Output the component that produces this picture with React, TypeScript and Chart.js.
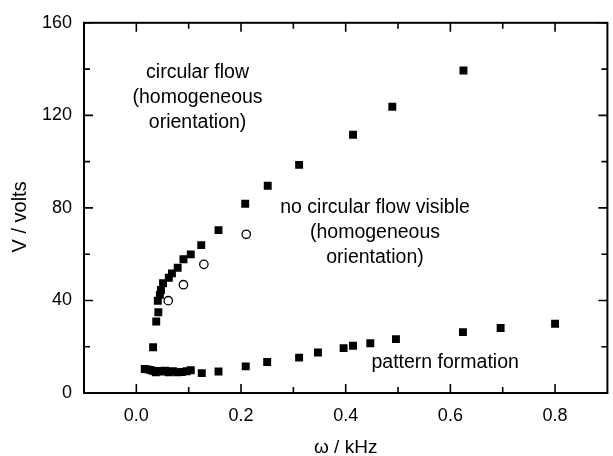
import { useEffect, useRef } from "react";
import Chart from "chart.js/auto";

// circular-flow threshold (filled squares, upper branch)
const upperX = [0.032, 0.038, 0.042, 0.041, 0.045, 0.047, 0.051, 0.062, 0.068, 0.079, 0.09, 0.104, 0.124, 0.157, 0.208, 0.251, 0.311, 0.414, 0.489, 0.625];
const upperY = [19.8, 30.9, 34.9, 39.9, 42.4, 44.5, 47.4, 49.8, 51.7, 54.1, 57.8, 59.9, 63.9, 70.4, 81.8, 89.6, 98.6, 111.6, 123.7, 139.4];

// pattern formation threshold (filled squares, lower branch)
const lowerX = [0.016, 0.021, 0.026, 0.031, 0.037, 0.042, 0.048, 0.055, 0.062, 0.07, 0.078, 0.087, 0.096, 0.104, 0.125, 0.157, 0.209, 0.25, 0.311, 0.347, 0.396, 0.414, 0.447, 0.496, 0.624, 0.696, 0.8];
const lowerY = [10.4, 10.2, 10.0, 9.6, 9.0, 9.5, 9.3, 9.6, 9.0, 9.4, 9.0, 9.1, 9.4, 9.8, 8.6, 9.3, 11.5, 13.4, 15.3, 17.5, 19.4, 20.4, 21.5, 23.3, 26.3, 28.1, 29.9];

// open circles
const openX = [0.061, 0.09, 0.129, 0.21];
const openY = [39.9, 46.8, 55.6, 68.6];

const xMajor = [0, 0.2, 0.4, 0.6, 0.8];
const xMinor = [0.1, 0.3, 0.5, 0.7];
const yMajor = [0, 40, 80, 120, 160];
const yMinor = [20, 60, 100, 140];

// region labels, anchored in data units
const notes = [
  { x: 0.117, y: [138.5, 127.8, 117], lines: ["circular flow", "(homogeneous", "orientation)"] },
  { x: 0.456, y: [80.0, 69.2, 58.4], lines: ["no circular flow visible", "(homogeneous", "orientation)"] },
  { x: 0.59, y: [13.2], lines: ["pattern formation"] },
];

const yTitle = "V / volts";

const FONT = "'Liberation Sans', Arial, sans-serif";

const framePlugin = {
  id: "frame",
  afterDatasetsDraw(chart: any) {
    const { ctx, chartArea: a } = chart;
    const { x, y } = chart.scales;
    ctx.save();
    ctx.strokeStyle = "#000";
    ctx.lineWidth = 1.6;
    ctx.beginPath();
    const tx = (v: number, len: number) => {
      const p = x.getPixelForValue(v);
      ctx.moveTo(p, a.bottom);
      ctx.lineTo(p, a.bottom - len);
      ctx.moveTo(p, a.top);
      ctx.lineTo(p, a.top + len);
    };
    const ty = (v: number, len: number) => {
      const p = y.getPixelForValue(v);
      ctx.moveTo(a.left, p);
      ctx.lineTo(a.left + len, p);
      ctx.moveTo(a.right, p);
      ctx.lineTo(a.right - len, p);
    };
    xMajor.forEach((v) => tx(v, 9));
    xMinor.forEach((v) => tx(v, 6));
    yMajor.forEach((v) => ty(v, 9));
    yMinor.forEach((v) => ty(v, 6));
    ctx.stroke();
    ctx.lineWidth = 2;
    ctx.strokeRect(a.left, a.top, a.right - a.left, a.bottom - a.top);

    ctx.fillStyle = "#000";
    ctx.font = `19.5px ${FONT}`;
    ctx.textAlign = "center";
    ctx.textBaseline = "middle";
    notes.forEach((n) =>
      n.lines.forEach((t, i) =>
        ctx.fillText(t, x.getPixelForValue(n.x), y.getPixelForValue(n.y[i])),
      ),
    );

    // y-axis title, sitting a little below the axis middle as in the original
    ctx.font = `20px ${FONT}`;
    ctx.translate(20, (a.top + a.bottom) / 2 + 9);
    ctx.rotate(-Math.PI / 2);
    ctx.fillText(yTitle, 0, 0);
    ctx.restore();
  },
};

export default function App() {
  const canvasRef = useRef<HTMLCanvasElement | null>(null);

  useEffect(() => {
    if (!canvasRef.current) return;
    document.body.style.margin = "0";
    Chart.defaults.font.family = FONT;
    Chart.defaults.color = "#000";

    const chart = new Chart(canvasRef.current, {
      type: "scatter",
      data: {
        datasets: [
          {
            data: upperX.map((v, i) => ({ x: v, y: upperY[i] })),
            pointStyle: "rect",
            pointRadius: 5.6,
            backgroundColor: "#000",
            borderColor: "#000",
            borderWidth: 0,
          },
          {
            data: lowerX.map((v, i) => ({ x: v, y: lowerY[i] })),
            pointStyle: "rect",
            pointRadius: 5.6,
            backgroundColor: "#000",
            borderColor: "#000",
            borderWidth: 0,
          },
          {
            data: openX.map((v, i) => ({ x: v, y: openY[i] })),
            pointStyle: "circle",
            pointRadius: 4.2,
            backgroundColor: "#fff",
            borderColor: "#000",
            borderWidth: 1.3,
          },
        ],
      },
      options: {
        responsive: false,
        animation: false,
        layout: { padding: { top: 22, right: 2, left: 0, bottom: 0 } },
        plugins: {
          legend: { display: false },
          tooltip: { enabled: false },
        },
        scales: {
          x: {
            type: "linear",
            min: -0.1,
            max: 0.9,
            afterBuildTicks: (s: any) => {
              s.ticks = xMajor.map((v) => ({ value: v }));
            },
            afterFit: (s: any) => {
              s.height = 63;
            },
            ticks: {
              autoSkip: false,
              maxRotation: 0,
              padding: 12,
              font: { size: 18 },
              callback: (v: any) => Number(v).toFixed(1),
            },
            grid: { display: false, drawTicks: false },
            border: { display: false },
            title: {
              display: true,
              text: "ω / kHz",
              font: { size: 19, lineHeight: 0.84 },
              padding: 0,
            },
          },
          y: {
            min: 0,
            max: 160,
            afterBuildTicks: (s: any) => {
              s.ticks = yMajor.map((v) => ({ value: v }));
            },
            afterFit: (s: any) => {
              s.width = 84;
            },
            ticks: {
              padding: 12,
              font: { size: 18 },
            },
            grid: { display: false, drawTicks: false },
            border: { display: false },
          },
        },
      },
      plugins: [framePlugin],
    });

    return () => chart.destroy();
  }, []);

  return (
    <div style={{ position: "fixed", left: 0, top: 0, width: 613, height: 456, background: "#fff" }}>
      <canvas ref={canvasRef} width={613} height={456} />
    </div>
  );
}
